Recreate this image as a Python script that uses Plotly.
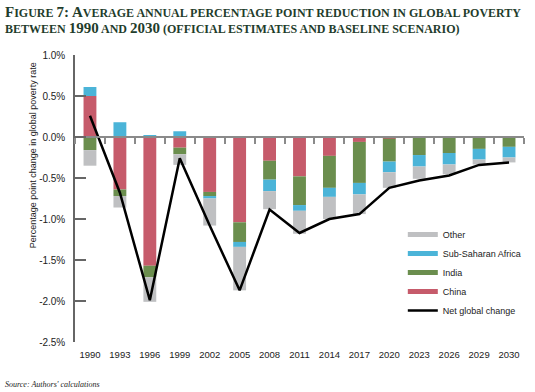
import plotly.graph_objects as go

years = ["1990", "1993", "1996", "1999", "2002", "2005", "2008", "2011",
         "2014", "2017", "2020", "2023", "2026", "2029", "2030"]
china = [0.50, -0.64, -1.57, -0.13, -0.67, -1.04, -0.29, -0.48, -0.23, -0.06, -0.02, 0.0, 0.0, -0.005, -0.005]
india = [-0.16, -0.08, -0.14, -0.08, -0.05, -0.24, -0.23, -0.35, -0.39, -0.50, -0.28, -0.22, -0.195, -0.14, -0.115]
ssa = [0.11, 0.18, 0.02, 0.07, -0.03, -0.06, -0.14, -0.07, -0.11, -0.14, -0.13, -0.14, -0.14, -0.13, -0.13]
other = [-0.19, -0.14, -0.30, -0.13, -0.33, -0.53, -0.22, -0.28, -0.27, -0.24, -0.19, -0.15, -0.12, -0.06, -0.06]
net = [0.26, -0.68, -1.99, -0.26, -1.08, -1.87, -0.885, -1.17, -1.0, -0.94, -0.62, -0.53, -0.47, -0.34, -0.31]
y_ticks = [1.0, 0.5, 0.0, -0.5, -1.0, -1.5, -2.0, -2.5]

C_CHINA = "#c65b6b"
C_INDIA = "#6b8e4e"
C_SSA = "#4bb4d8"
C_OTHER = "#bfc0c2"

SANS = "Liberation Sans, Arial, sans-serif"
SERIF = "Liberation Serif, DejaVu Serif, serif"

fig = go.Figure()
series = [("China", china, C_CHINA), ("India", india, C_INDIA),
          ("Sub-Saharan Africa", ssa, C_SSA), ("Other", other, C_OTHER)]
for name, vals, col in series:
    fig.add_trace(go.Bar(x=years, y=vals, name=name, marker_color=col,
                         marker_line_width=0, showlegend=False, width=0.43))

fig.add_trace(go.Scatter(x=years, y=net, mode="lines", name="Net global change",
                         line=dict(color="black", width=2.5), showlegend=False))

# dummy trace to create the zero-line axis
fig.add_trace(go.Scatter(x=years, y=[None] * len(years), xaxis="x2", yaxis="y",
                         showlegend=False, hoverinfo="skip"))

# legend entries
legend_items = [("Other", C_OTHER, 5), ("Sub-Saharan Africa", C_SSA, 5),
                ("India", C_INDIA, 5), ("China", C_CHINA, 5), ("Net global change", "black", 2.5)]
for rank, (name, col, w) in enumerate(legend_items):
    fig.add_trace(go.Scatter(x=[None], y=[None], mode="lines", name=name,
                             line=dict(color=col, width=w), legendrank=rank + 1))

B, S = 15, 12
def big(t):
    return f"<span style='font-size:{B}px'>{t}</span>"
def small(t):
    return f"<span style='font-size:{S}px'>{t}</span>"

line1 = big("F") + small("IGURE ") + big("7: A") + small("VERAGE ANNUAL PERCENTAGE POINT REDUCTION IN GLOBAL POVERTY")
line2 = small("BETWEEN ") + big("1990") + small(" AND ") + big("2030") + small(" (OFFICIAL ESTIMATES AND BASELINE SCENARIO)")

PL, PR, PT, PB = 75, 8, 55, 50
PH = 392 - PT - PB
PW = 535 - PL - PR

def px_x(x):
    return (x - PL) / PW

def px_y(y):
    return (PH + PT - y) / PH

fig.update_layout(
    width=535, height=392,
    margin=dict(l=PL, r=PR, t=PT, b=PB),
    paper_bgcolor="white", plot_bgcolor="white",
    barmode="relative",
    font=dict(family=SANS, size=10, color="#222"),
    xaxis=dict(type="category", categoryorder="array", categoryarray=years,
               range=[-0.5, 14.5], showline=False, ticks="", showgrid=False,
               tickfont=dict(family=SANS, size=9.5, color="#222"), ticklabelstandoff=5),
    xaxis2=dict(type="category", categoryorder="array", categoryarray=years,
                overlaying="x", matches="x", anchor="free", position=2.5 / 3.5, side="bottom",
                showline=True, linecolor="#8a8a8a", linewidth=1.5,
                ticks="outside", tickson="boundaries", ticklen=6, tickcolor="#8a8a8a", tickwidth=1.5,
                showticklabels=False, showgrid=False),
    yaxis=dict(range=[-2.5, 1.0], tickvals=y_ticks, ticktext=[f"{v:.1f}%" for v in y_ticks],
               showline=True, linecolor="#666", linewidth=1.5, ticks="inside", ticklen=11,
               tickcolor="#666", tickwidth=1.5, showgrid=False, zeroline=False,
               tickfont=dict(family=SANS, size=10, color="#222"), ticklabelstandoff=6),
    legend=dict(x=px_x(405), y=px_y(220), xanchor="left", yanchor="top",
                bgcolor="rgba(0,0,0,0)", font=dict(family=SANS, size=9, color="#222"),
                itemwidth=30, tracegroupgap=0),
    annotations=[
        dict(text="<b>" + line1 + "<br>" + line2 + "</b>", xref="paper", yref="paper",
             x=px_x(3), y=px_y(2), xanchor="left", yanchor="top", align="left",
             showarrow=False, font=dict(family=SERIF, size=12, color="#1f3d2c")),
        dict(text="Percentage point change in global poverty rate", xref="paper", yref="paper",
             x=px_x(33), y=px_y(155), xanchor="center", yanchor="middle", textangle=-90,
             showarrow=False, font=dict(family=SANS, size=9, color="#222")),
        dict(text="<i>Source: Authors' calculations</i>", xref="paper", yref="paper",
             x=px_x(3), y=px_y(384), xanchor="left", yanchor="middle",
             showarrow=False, font=dict(family=SERIF, size=8, color="#222")),
    ],
)

fig.write_html("out.html", config={"displayModeBar": False},
               post_script="document.body.style.margin='0';document.body.style.padding='0';")
